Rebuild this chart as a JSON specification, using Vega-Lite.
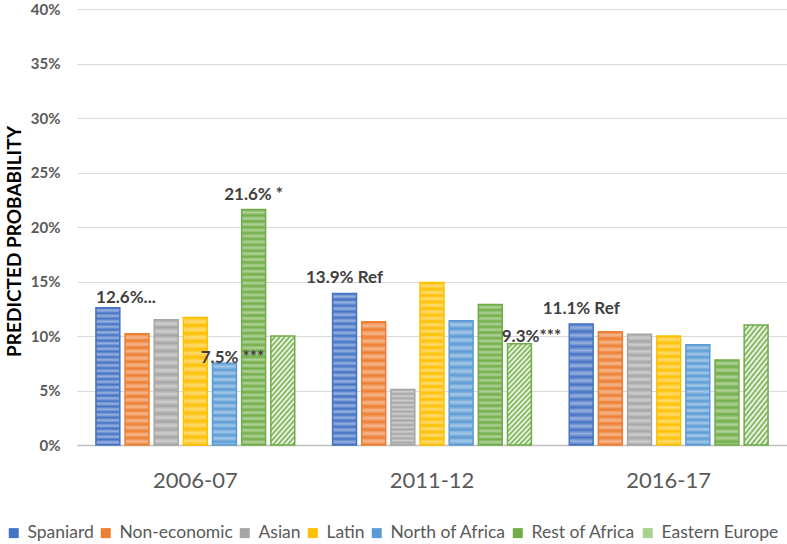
{
  "$schema": "https://vega.github.io/schema/vega-lite/v6.json",
  "width": 710,
  "height": 436,
  "autosize": {"type": "none"},
  "padding": {"left": 77, "top": 9, "right": 0, "bottom": 99},
  "config": {
    "font": "Lato",
    "view": {"stroke": null},
    "axis": {"labelFont": "Lato", "titleFont": "Lato"}
  },
  "data": {
    "values": [
      {"period": "2006-07", "group": "Spaniard", "value": 0.126, "label": "12.6%..."},
      {"period": "2006-07", "group": "Non-economic", "value": 0.102},
      {"period": "2006-07", "group": "Asian", "value": 0.115},
      {"period": "2006-07", "group": "Latin", "value": 0.117},
      {"period": "2006-07", "group": "North of Africa", "value": 0.075, "label": "7.5% ***"},
      {"period": "2006-07", "group": "Rest of Africa", "value": 0.216, "label": "21.6% *"},
      {"period": "2006-07", "group": "Eastern Europe", "value": 0.1},
      {"period": "2011-12", "group": "Spaniard", "value": 0.139, "label": "13.9% Ref"},
      {"period": "2011-12", "group": "Non-economic", "value": 0.113},
      {"period": "2011-12", "group": "Asian", "value": 0.051},
      {"period": "2011-12", "group": "Latin", "value": 0.149},
      {"period": "2011-12", "group": "North of Africa", "value": 0.114},
      {"period": "2011-12", "group": "Rest of Africa", "value": 0.129},
      {"period": "2011-12", "group": "Eastern Europe", "value": 0.093, "label": "9.3%***"},
      {"period": "2016-17", "group": "Spaniard", "value": 0.111, "label": "11.1% Ref"},
      {"period": "2016-17", "group": "Non-economic", "value": 0.104},
      {"period": "2016-17", "group": "Asian", "value": 0.1015},
      {"period": "2016-17", "group": "Latin", "value": 0.1},
      {"period": "2016-17", "group": "North of Africa", "value": 0.092},
      {"period": "2016-17", "group": "Rest of Africa", "value": 0.078},
      {"period": "2016-17", "group": "Eastern Europe", "value": 0.11}
    ]
  },
  "encoding": {
    "x": {
      "field": "period",
      "type": "nominal",
      "title": null,
      "scale": {"paddingInner": 0.16, "paddingOuter": 0.08},
      "axis": {
        "labelAngle": 0,
        "labelFontSize": 22,
        "labelColor": "#595959",
        "labelPadding": 25,
        "ticks": false,
        "tickSize": 0,
        "domainColor": "#BFBFBF",
        "domainWidth": 1.5,
        "grid": false
      }
    },
    "xOffset": {
      "field": "group",
      "type": "nominal",
      "scale": {
        "domain": ["Spaniard", "Non-economic", "Asian", "Latin", "North of Africa", "Rest of Africa", "Eastern Europe"],
        "paddingInner": 0.18,
        "paddingOuter": 0
      }
    },
    "y": {
      "field": "value",
      "type": "quantitative",
      "title": "PREDICTED PROBABILITY",
      "scale": {"domain": [0, 0.4], "nice": false},
      "axis": {
        "values": [0, 0.05, 0.1, 0.15, 0.2, 0.25, 0.3, 0.35, 0.4],
        "format": ".0%",
        "domain": false,
        "ticks": false,
        "tickSize": 0,
        "labelPadding": 17,
        "labelFontSize": 15,
        "labelFontWeight": "bold",
        "labelColor": "#595959",
        "gridColor": "#D9D9D9",
        "gridWidth": 1,
        "titleFontSize": 19,
        "titleFontWeight": "bold",
        "titleColor": "#000000",
        "titleX": -63,
        "titleY": 232,
        "titleAngle": -90,
        "titleAlign": "center",
        "titleBaseline": "middle"
      }
    }
  },
  "layer": [
    {
      "mark": {"type": "bar"},
      "encoding": {
        "color": {
          "field": "group",
          "type": "nominal",
          "scale": {
            "domain": ["Spaniard", "Non-economic", "Asian", "Latin", "North of Africa", "Rest of Africa", "Eastern Europe"],
            "range": ["#4472C4", "#ED7D31", "#A5A5A5", "#FFC000", "#5B9BD5", "#70AD47", "#A9D18E"]
          },
          "legend": {
            "title": null,
            "orient": "none",
            "legendX": -72,
            "legendY": 515,
            "direction": "horizontal",
            "columns": 7,
            "columnPadding": 3,
            "symbolType": "square",
            "symbolSize": 100,
            "symbolStrokeWidth": 0,
            "labelOffset": 5,
            "labelFontSize": 17.5,
            "labelColor": "#595959",
            "labelLimit": 300
          }
        }
      }
    },
    {
      "transform": [{"filter": "datum.group != 'Eastern Europe' && datum.value < 0.085"}],
      "mark": {
        "type": "bar",
        "strokeWidth": 1.5,
        "fill": {
          "gradient": "linear", "x1": 0, "y1": 0, "x2": 0, "y2": 1,
          "stops": [
            {"offset": 0, "color": "rgba(255,255,255,0)"},
            {"offset": 0.04, "color": "rgba(255,255,255,0.45)"},
            {"offset": 0.08, "color": "rgba(255,255,255,0)"},
            {"offset": 0.12, "color": "rgba(255,255,255,0.45)"},
            {"offset": 0.16, "color": "rgba(255,255,255,0)"},
            {"offset": 0.2, "color": "rgba(255,255,255,0.45)"},
            {"offset": 0.24, "color": "rgba(255,255,255,0)"},
            {"offset": 0.28, "color": "rgba(255,255,255,0.45)"},
            {"offset": 0.32, "color": "rgba(255,255,255,0)"},
            {"offset": 0.36, "color": "rgba(255,255,255,0.45)"},
            {"offset": 0.4, "color": "rgba(255,255,255,0)"},
            {"offset": 0.44, "color": "rgba(255,255,255,0.45)"},
            {"offset": 0.48, "color": "rgba(255,255,255,0)"},
            {"offset": 0.52, "color": "rgba(255,255,255,0.45)"},
            {"offset": 0.56, "color": "rgba(255,255,255,0)"},
            {"offset": 0.6, "color": "rgba(255,255,255,0.45)"},
            {"offset": 0.64, "color": "rgba(255,255,255,0)"},
            {"offset": 0.68, "color": "rgba(255,255,255,0.45)"},
            {"offset": 0.72, "color": "rgba(255,255,255,0)"},
            {"offset": 0.76, "color": "rgba(255,255,255,0.45)"},
            {"offset": 0.8, "color": "rgba(255,255,255,0)"},
            {"offset": 0.84, "color": "rgba(255,255,255,0.45)"},
            {"offset": 0.88, "color": "rgba(255,255,255,0)"},
            {"offset": 0.92, "color": "rgba(255,255,255,0.45)"},
            {"offset": 0.96, "color": "rgba(255,255,255,0)"},
            {"offset": 1, "color": "rgba(255,255,255,0.45)"}
          ]
        }
      },
      "encoding": {
        "stroke": {
          "field": "group",
          "type": "nominal",
          "legend": null,
          "scale": {
            "domain": ["Spaniard", "Non-economic", "Asian", "Latin", "North of Africa", "Rest of Africa", "Eastern Europe"],
            "range": ["#4472C4", "#ED7D31", "#A5A5A5", "#FFC000", "#5B9BD5", "#70AD47", "#70AD47"]
          }
        }
      }
    },
    {
      "transform": [{"filter": "datum.group != 'Eastern Europe' && datum.value >= 0.085 && datum.value < 0.12"}],
      "mark": {
        "type": "bar",
        "strokeWidth": 1.5,
        "fill": {
          "gradient": "linear", "x1": 0, "y1": 0, "x2": 0, "y2": 1,
          "stops": [
            {"offset": 0, "color": "rgba(255,255,255,0)"},
            {"offset": 0.03125, "color": "rgba(255,255,255,0.45)"},
            {"offset": 0.0625, "color": "rgba(255,255,255,0)"},
            {"offset": 0.09375, "color": "rgba(255,255,255,0.45)"},
            {"offset": 0.125, "color": "rgba(255,255,255,0)"},
            {"offset": 0.15625, "color": "rgba(255,255,255,0.45)"},
            {"offset": 0.1875, "color": "rgba(255,255,255,0)"},
            {"offset": 0.21875, "color": "rgba(255,255,255,0.45)"},
            {"offset": 0.25, "color": "rgba(255,255,255,0)"},
            {"offset": 0.28125, "color": "rgba(255,255,255,0.45)"},
            {"offset": 0.3125, "color": "rgba(255,255,255,0)"},
            {"offset": 0.34375, "color": "rgba(255,255,255,0.45)"},
            {"offset": 0.375, "color": "rgba(255,255,255,0)"},
            {"offset": 0.40625, "color": "rgba(255,255,255,0.45)"},
            {"offset": 0.4375, "color": "rgba(255,255,255,0)"},
            {"offset": 0.46875, "color": "rgba(255,255,255,0.45)"},
            {"offset": 0.5, "color": "rgba(255,255,255,0)"},
            {"offset": 0.53125, "color": "rgba(255,255,255,0.45)"},
            {"offset": 0.5625, "color": "rgba(255,255,255,0)"},
            {"offset": 0.59375, "color": "rgba(255,255,255,0.45)"},
            {"offset": 0.625, "color": "rgba(255,255,255,0)"},
            {"offset": 0.65625, "color": "rgba(255,255,255,0.45)"},
            {"offset": 0.6875, "color": "rgba(255,255,255,0)"},
            {"offset": 0.71875, "color": "rgba(255,255,255,0.45)"},
            {"offset": 0.75, "color": "rgba(255,255,255,0)"},
            {"offset": 0.78125, "color": "rgba(255,255,255,0.45)"},
            {"offset": 0.8125, "color": "rgba(255,255,255,0)"},
            {"offset": 0.84375, "color": "rgba(255,255,255,0.45)"},
            {"offset": 0.875, "color": "rgba(255,255,255,0)"},
            {"offset": 0.90625, "color": "rgba(255,255,255,0.45)"},
            {"offset": 0.9375, "color": "rgba(255,255,255,0)"},
            {"offset": 0.96875, "color": "rgba(255,255,255,0.45)"},
            {"offset": 1, "color": "rgba(255,255,255,0)"}
          ]
        }
      },
      "encoding": {
        "stroke": {"field": "group", "type": "nominal", "legend": null}
      }
    },
    {
      "transform": [{"filter": "datum.group != 'Eastern Europe' && datum.value >= 0.12 && datum.value < 0.17"}],
      "mark": {
        "type": "bar",
        "strokeWidth": 1.5,
        "fill": {
          "gradient": "linear", "x1": 0, "y1": 0, "x2": 0, "y2": 1,
          "stops": [
            {"offset": 0, "color": "rgba(255,255,255,0)"},
            {"offset": 0.02, "color": "rgba(255,255,255,0.45)"},
            {"offset": 0.04, "color": "rgba(255,255,255,0)"},
            {"offset": 0.06, "color": "rgba(255,255,255,0.45)"},
            {"offset": 0.08, "color": "rgba(255,255,255,0)"},
            {"offset": 0.1, "color": "rgba(255,255,255,0.45)"},
            {"offset": 0.12, "color": "rgba(255,255,255,0)"},
            {"offset": 0.14, "color": "rgba(255,255,255,0.45)"},
            {"offset": 0.16, "color": "rgba(255,255,255,0)"},
            {"offset": 0.18, "color": "rgba(255,255,255,0.45)"},
            {"offset": 0.2, "color": "rgba(255,255,255,0)"},
            {"offset": 0.22, "color": "rgba(255,255,255,0.45)"},
            {"offset": 0.24, "color": "rgba(255,255,255,0)"},
            {"offset": 0.26, "color": "rgba(255,255,255,0.45)"},
            {"offset": 0.28, "color": "rgba(255,255,255,0)"},
            {"offset": 0.3, "color": "rgba(255,255,255,0.45)"},
            {"offset": 0.32, "color": "rgba(255,255,255,0)"},
            {"offset": 0.34, "color": "rgba(255,255,255,0.45)"},
            {"offset": 0.36, "color": "rgba(255,255,255,0)"},
            {"offset": 0.38, "color": "rgba(255,255,255,0.45)"},
            {"offset": 0.4, "color": "rgba(255,255,255,0)"},
            {"offset": 0.42, "color": "rgba(255,255,255,0.45)"},
            {"offset": 0.44, "color": "rgba(255,255,255,0)"},
            {"offset": 0.46, "color": "rgba(255,255,255,0.45)"},
            {"offset": 0.48, "color": "rgba(255,255,255,0)"},
            {"offset": 0.5, "color": "rgba(255,255,255,0.45)"},
            {"offset": 0.52, "color": "rgba(255,255,255,0)"},
            {"offset": 0.54, "color": "rgba(255,255,255,0.45)"},
            {"offset": 0.56, "color": "rgba(255,255,255,0)"},
            {"offset": 0.58, "color": "rgba(255,255,255,0.45)"},
            {"offset": 0.6, "color": "rgba(255,255,255,0)"},
            {"offset": 0.62, "color": "rgba(255,255,255,0.45)"},
            {"offset": 0.64, "color": "rgba(255,255,255,0)"},
            {"offset": 0.66, "color": "rgba(255,255,255,0.45)"},
            {"offset": 0.68, "color": "rgba(255,255,255,0)"},
            {"offset": 0.7, "color": "rgba(255,255,255,0.45)"},
            {"offset": 0.72, "color": "rgba(255,255,255,0)"},
            {"offset": 0.74, "color": "rgba(255,255,255,0.45)"},
            {"offset": 0.76, "color": "rgba(255,255,255,0)"},
            {"offset": 0.78, "color": "rgba(255,255,255,0.45)"},
            {"offset": 0.8, "color": "rgba(255,255,255,0)"},
            {"offset": 0.82, "color": "rgba(255,255,255,0.45)"},
            {"offset": 0.84, "color": "rgba(255,255,255,0)"},
            {"offset": 0.86, "color": "rgba(255,255,255,0.45)"},
            {"offset": 0.88, "color": "rgba(255,255,255,0)"},
            {"offset": 0.9, "color": "rgba(255,255,255,0.45)"},
            {"offset": 0.92, "color": "rgba(255,255,255,0)"},
            {"offset": 0.94, "color": "rgba(255,255,255,0.45)"},
            {"offset": 0.96, "color": "rgba(255,255,255,0)"},
            {"offset": 0.98, "color": "rgba(255,255,255,0.45)"},
            {"offset": 1, "color": "rgba(255,255,255,0)"}
          ]
        }
      },
      "encoding": {
        "stroke": {"field": "group", "type": "nominal", "legend": null}
      }
    },
    {
      "transform": [{"filter": "datum.group != 'Eastern Europe' && datum.value >= 0.17"}],
      "mark": {
        "type": "bar",
        "strokeWidth": 1.5,
        "fill": {
          "gradient": "linear", "x1": 0, "y1": 0, "x2": 0, "y2": 1,
          "stops": [
            {"offset": 0, "color": "rgba(255,255,255,0)"},
            {"offset": 0.0125, "color": "rgba(255,255,255,0.45)"},
            {"offset": 0.025, "color": "rgba(255,255,255,0)"},
            {"offset": 0.0375, "color": "rgba(255,255,255,0.45)"},
            {"offset": 0.05, "color": "rgba(255,255,255,0)"},
            {"offset": 0.0625, "color": "rgba(255,255,255,0.45)"},
            {"offset": 0.075, "color": "rgba(255,255,255,0)"},
            {"offset": 0.0875, "color": "rgba(255,255,255,0.45)"},
            {"offset": 0.1, "color": "rgba(255,255,255,0)"},
            {"offset": 0.1125, "color": "rgba(255,255,255,0.45)"},
            {"offset": 0.125, "color": "rgba(255,255,255,0)"},
            {"offset": 0.1375, "color": "rgba(255,255,255,0.45)"},
            {"offset": 0.15, "color": "rgba(255,255,255,0)"},
            {"offset": 0.1625, "color": "rgba(255,255,255,0.45)"},
            {"offset": 0.175, "color": "rgba(255,255,255,0)"},
            {"offset": 0.1875, "color": "rgba(255,255,255,0.45)"},
            {"offset": 0.2, "color": "rgba(255,255,255,0)"},
            {"offset": 0.2125, "color": "rgba(255,255,255,0.45)"},
            {"offset": 0.225, "color": "rgba(255,255,255,0)"},
            {"offset": 0.2375, "color": "rgba(255,255,255,0.45)"},
            {"offset": 0.25, "color": "rgba(255,255,255,0)"},
            {"offset": 0.2625, "color": "rgba(255,255,255,0.45)"},
            {"offset": 0.275, "color": "rgba(255,255,255,0)"},
            {"offset": 0.2875, "color": "rgba(255,255,255,0.45)"},
            {"offset": 0.3, "color": "rgba(255,255,255,0)"},
            {"offset": 0.3125, "color": "rgba(255,255,255,0.45)"},
            {"offset": 0.325, "color": "rgba(255,255,255,0)"},
            {"offset": 0.3375, "color": "rgba(255,255,255,0.45)"},
            {"offset": 0.35, "color": "rgba(255,255,255,0)"},
            {"offset": 0.3625, "color": "rgba(255,255,255,0.45)"},
            {"offset": 0.375, "color": "rgba(255,255,255,0)"},
            {"offset": 0.3875, "color": "rgba(255,255,255,0.45)"},
            {"offset": 0.4, "color": "rgba(255,255,255,0)"},
            {"offset": 0.4125, "color": "rgba(255,255,255,0.45)"},
            {"offset": 0.425, "color": "rgba(255,255,255,0)"},
            {"offset": 0.4375, "color": "rgba(255,255,255,0.45)"},
            {"offset": 0.45, "color": "rgba(255,255,255,0)"},
            {"offset": 0.4625, "color": "rgba(255,255,255,0.45)"},
            {"offset": 0.475, "color": "rgba(255,255,255,0)"},
            {"offset": 0.4875, "color": "rgba(255,255,255,0.45)"},
            {"offset": 0.5, "color": "rgba(255,255,255,0)"},
            {"offset": 0.5125, "color": "rgba(255,255,255,0.45)"},
            {"offset": 0.525, "color": "rgba(255,255,255,0)"},
            {"offset": 0.5375, "color": "rgba(255,255,255,0.45)"},
            {"offset": 0.55, "color": "rgba(255,255,255,0)"},
            {"offset": 0.5625, "color": "rgba(255,255,255,0.45)"},
            {"offset": 0.575, "color": "rgba(255,255,255,0)"},
            {"offset": 0.5875, "color": "rgba(255,255,255,0.45)"},
            {"offset": 0.6, "color": "rgba(255,255,255,0)"},
            {"offset": 0.6125, "color": "rgba(255,255,255,0.45)"},
            {"offset": 0.625, "color": "rgba(255,255,255,0)"},
            {"offset": 0.6375, "color": "rgba(255,255,255,0.45)"},
            {"offset": 0.65, "color": "rgba(255,255,255,0)"},
            {"offset": 0.6625, "color": "rgba(255,255,255,0.45)"},
            {"offset": 0.675, "color": "rgba(255,255,255,0)"},
            {"offset": 0.6875, "color": "rgba(255,255,255,0.45)"},
            {"offset": 0.7, "color": "rgba(255,255,255,0)"},
            {"offset": 0.7125, "color": "rgba(255,255,255,0.45)"},
            {"offset": 0.725, "color": "rgba(255,255,255,0)"},
            {"offset": 0.7375, "color": "rgba(255,255,255,0.45)"},
            {"offset": 0.75, "color": "rgba(255,255,255,0)"},
            {"offset": 0.7625, "color": "rgba(255,255,255,0.45)"},
            {"offset": 0.775, "color": "rgba(255,255,255,0)"},
            {"offset": 0.7875, "color": "rgba(255,255,255,0.45)"},
            {"offset": 0.8, "color": "rgba(255,255,255,0)"},
            {"offset": 0.8125, "color": "rgba(255,255,255,0.45)"},
            {"offset": 0.825, "color": "rgba(255,255,255,0)"},
            {"offset": 0.8375, "color": "rgba(255,255,255,0.45)"},
            {"offset": 0.85, "color": "rgba(255,255,255,0)"},
            {"offset": 0.8625, "color": "rgba(255,255,255,0.45)"},
            {"offset": 0.875, "color": "rgba(255,255,255,0)"},
            {"offset": 0.8875, "color": "rgba(255,255,255,0.45)"},
            {"offset": 0.9, "color": "rgba(255,255,255,0)"},
            {"offset": 0.9125, "color": "rgba(255,255,255,0.45)"},
            {"offset": 0.925, "color": "rgba(255,255,255,0)"},
            {"offset": 0.9375, "color": "rgba(255,255,255,0.45)"},
            {"offset": 0.95, "color": "rgba(255,255,255,0)"},
            {"offset": 0.9625, "color": "rgba(255,255,255,0.45)"},
            {"offset": 0.975, "color": "rgba(255,255,255,0)"},
            {"offset": 0.9875, "color": "rgba(255,255,255,0.45)"},
            {"offset": 1, "color": "rgba(255,255,255,0)"}
          ]
        }
      },
      "encoding": {
        "stroke": {"field": "group", "type": "nominal", "legend": null}
      }
    },
    {
      "transform": [{"filter": "datum.group == 'Eastern Europe'"}],
      "mark": {
        "type": "bar",
        "stroke": "#70AD47",
        "strokeWidth": 1.5,
        "fill": {
          "gradient": "linear", "x1": 0, "y1": 0, "x2": 0.3, "y2": 1.2,
          "stops": [
            {"offset": 0, "color": "#70AD47"},
            {"offset": 0.02, "color": "#ffffff"},
            {"offset": 0.04, "color": "#70AD47"},
            {"offset": 0.06, "color": "#ffffff"},
            {"offset": 0.08, "color": "#70AD47"},
            {"offset": 0.1, "color": "#ffffff"},
            {"offset": 0.12, "color": "#70AD47"},
            {"offset": 0.14, "color": "#ffffff"},
            {"offset": 0.16, "color": "#70AD47"},
            {"offset": 0.18, "color": "#ffffff"},
            {"offset": 0.2, "color": "#70AD47"},
            {"offset": 0.22, "color": "#ffffff"},
            {"offset": 0.24, "color": "#70AD47"},
            {"offset": 0.26, "color": "#ffffff"},
            {"offset": 0.28, "color": "#70AD47"},
            {"offset": 0.3, "color": "#ffffff"},
            {"offset": 0.32, "color": "#70AD47"},
            {"offset": 0.34, "color": "#ffffff"},
            {"offset": 0.36, "color": "#70AD47"},
            {"offset": 0.38, "color": "#ffffff"},
            {"offset": 0.4, "color": "#70AD47"},
            {"offset": 0.42, "color": "#ffffff"},
            {"offset": 0.44, "color": "#70AD47"},
            {"offset": 0.46, "color": "#ffffff"},
            {"offset": 0.48, "color": "#70AD47"},
            {"offset": 0.5, "color": "#ffffff"},
            {"offset": 0.52, "color": "#70AD47"},
            {"offset": 0.54, "color": "#ffffff"},
            {"offset": 0.56, "color": "#70AD47"},
            {"offset": 0.58, "color": "#ffffff"},
            {"offset": 0.6, "color": "#70AD47"},
            {"offset": 0.62, "color": "#ffffff"},
            {"offset": 0.64, "color": "#70AD47"},
            {"offset": 0.66, "color": "#ffffff"},
            {"offset": 0.68, "color": "#70AD47"},
            {"offset": 0.7, "color": "#ffffff"},
            {"offset": 0.72, "color": "#70AD47"},
            {"offset": 0.74, "color": "#ffffff"},
            {"offset": 0.76, "color": "#70AD47"},
            {"offset": 0.78, "color": "#ffffff"},
            {"offset": 0.8, "color": "#70AD47"},
            {"offset": 0.82, "color": "#ffffff"},
            {"offset": 0.84, "color": "#70AD47"},
            {"offset": 0.86, "color": "#ffffff"},
            {"offset": 0.88, "color": "#70AD47"},
            {"offset": 0.9, "color": "#ffffff"},
            {"offset": 0.92, "color": "#70AD47"},
            {"offset": 0.94, "color": "#ffffff"},
            {"offset": 0.96, "color": "#70AD47"},
            {"offset": 0.98, "color": "#ffffff"},
            {"offset": 1, "color": "#70AD47"}
          ]
        }
      }
    },
    {
      "transform": [{"filter": "datum.label == '13.9% Ref' || datum.label == '21.6% *' || datum.label == '11.1% Ref'"}],
      "mark": {"type": "text", "fontSize": 17, "fontWeight": "bold", "color": "#404040", "baseline": "alphabetic", "dy": -10},
      "encoding": {"text": {"field": "label", "type": "nominal"}}
    },
    {
      "transform": [{"filter": "datum.label == '12.6%...'"}],
      "mark": {"type": "text", "fontSize": 17, "fontWeight": "bold", "color": "#404040", "baseline": "alphabetic", "dx": 18, "dy": -5},
      "encoding": {"text": {"field": "label", "type": "nominal"}}
    },
    {
      "transform": [{"filter": "datum.label == '7.5% ***'"}],
      "mark": {"type": "text", "fontSize": 17, "fontWeight": "bold", "color": "#404040", "baseline": "alphabetic", "dx": 8, "dy": 0},
      "encoding": {"text": {"field": "label", "type": "nominal"}}
    },
    {
      "transform": [{"filter": "datum.label == '9.3%***'"}],
      "mark": {"type": "text", "fontSize": 17, "fontWeight": "bold", "color": "#404040", "baseline": "alphabetic", "dx": 12, "dy": -2},
      "encoding": {"text": {"field": "label", "type": "nominal"}}
    }
  ]
}
